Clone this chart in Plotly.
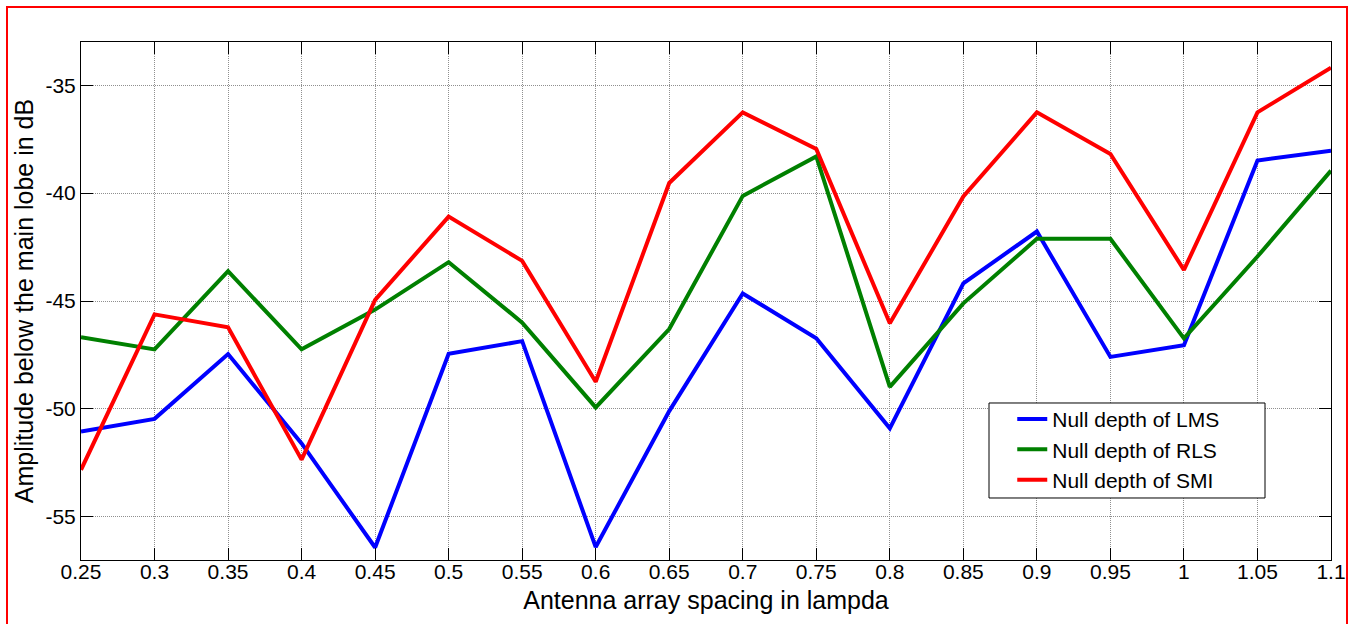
import plotly.graph_objects as go

spacing = [0.25, 0.3, 0.35, 0.4, 0.45, 0.5, 0.55, 0.6, 0.65, 0.7, 0.75, 0.8, 0.85, 0.9, 0.95, 1.0, 1.05, 1.1]
lms = [-51.05, -50.46, -47.46, -51.6, -56.42, -47.45, -46.86, -56.4, -50.1, -44.65, -46.73, -50.9, -44.18, -41.78, -47.59, -47.05, -38.49, -38.04]
rls = [-46.68, -47.24, -43.62, -47.24, -45.4, -43.2, -46.0, -49.93, -46.3, -40.13, -38.3, -48.98, -45.11, -42.12, -42.12, -46.73, -42.94, -38.96]
smi = [-52.82, -45.62, -46.22, -52.35, -44.95, -41.09, -43.14, -48.74, -39.53, -36.26, -37.96, -46.03, -40.16, -36.26, -38.19, -43.56, -36.26, -34.19]

names = ["Null depth of LMS", "Null depth of RLS", "Null depth of SMI"]
colors = ["#0000FF", "#008000", "#FF0000"]
x_ticks = [0.25, 0.3, 0.35, 0.4, 0.45, 0.5, 0.55, 0.6, 0.65, 0.7, 0.75, 0.8, 0.85, 0.9, 0.95, 1.0, 1.05, 1.1]
x_tick_labels = ["0.25", "0.3", "0.35", "0.4", "0.45", "0.5", "0.55", "0.6", "0.65", "0.7", "0.75", "0.8", "0.85", "0.9", "0.95", "1", "1.05", "1.1"]
y_ticks = [-55, -50, -45, -40, -35]
y_tick_labels = ["-55", "-50", "-45", "-40", "-35"]

fig = go.Figure()
for name, ys, c in zip(names, [lms, rls, smi], colors):
    fig.add_trace(go.Scatter(x=spacing, y=ys, mode="lines", name=name,
                             line=dict(color=c, width=4)))

font_family = "Liberation Sans, Arial, sans-serif"
axis_common = dict(
    showline=True, linecolor="black", linewidth=1, mirror="ticks",
    ticks="inside", ticklen=12, tickcolor="black", tickwidth=1,
    showgrid=True, gridcolor="#8f8f8f", gridwidth=1, griddash="1px,1px",
    zeroline=False, tickfont=dict(family=font_family, size=21, color="black"),
)

fig.update_layout(
    width=1357, height=624,
    margin=dict(l=81, r=26, t=42, b=64),
    paper_bgcolor="white", plot_bgcolor="white",
    font=dict(family=font_family, color="black"),
    xaxis=dict(range=[0.25, 1.1], tickvals=x_ticks, ticktext=x_tick_labels,
               title=dict(text="Antenna array spacing in lampda", font=dict(size=25), standoff=9),
               ticklabelstandoff=-7, **axis_common),
    yaxis=dict(range=[-57, -33], tickvals=y_ticks, ticktext=y_tick_labels,
               title=dict(text="Amplitude below the main lobe in dB", font=dict(size=25), standoff=4),
               ticklabelstandoff=0, **axis_common),
    legend=dict(x=0.745, y=0.311, xanchor="left", yanchor="top",
                bgcolor="rgba(0,0,0,0)", borderwidth=0,
                font=dict(size=21, family=font_family), tracegroupgap=0),
    showlegend=True,
)

# legend box (drawn as a shape so its size matches the reference)
fig.add_shape(type="rect", xref="paper", yref="paper",
              x0=0.7264, x1=0.9472, y0=0.1197, y1=0.3031,
              line=dict(color="black", width=1), fillcolor="white", layer="above")

# red outer frame
fig.add_shape(type="rect", xref="paper", yref="paper",
              x0=-0.0592, x1=1.0128, y0=-0.14, y1=1.0676,
              line=dict(color="#FF0000", width=2), fillcolor="rgba(0,0,0,0)", layer="above")

fig.write_html("out.html", config={"displayModeBar": False},
               post_script="document.body.style.margin='0px';")
